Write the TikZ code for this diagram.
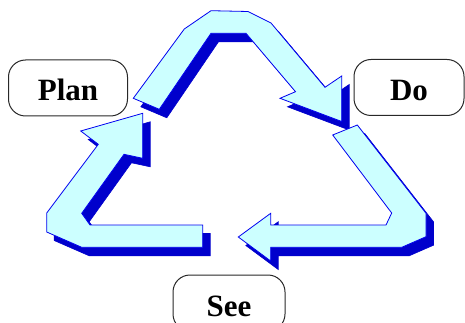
\documentclass[tikz,border=0pt]{standalone}
\usepackage{fontspec}
\setmainfont{Liberation Serif}
\definecolor{arrowfill}{RGB}{204,255,255}
\definecolor{arrowedge}{RGB}{0,0,240}
\definecolor{arrowshade}{RGB}{0,0,204}
\definecolor{tagedge}{RGB}{40,40,40}
\begin{document}
\begin{tikzpicture}[x=1pt,y=-1pt,
  tag/.style={draw=tagedge, line width=1pt, rounded corners=17pt,
    minimum height=56pt, inner sep=0pt, text height=26pt, text depth=0pt,
    font=\bfseries\fontsize{31}{31}\selectfont},
  shade/.style={fill=arrowshade, draw=arrowshade, line width=0.6pt, line join=miter},
  block/.style={fill=arrowfill, draw=arrowedge, line width=0.8pt, line join=miter},
  drop/.style={shift={(7.5,8.5)}}]
\useasboundingbox (0,0) rectangle (465,323);

% block arrow Plan -> Do
\def\planarrow{(133.3,98.3) -- (184.3,29) -- (211,10.7) -- (248,11.5) -- (271,23)
  -- (325,87.3) -- (341.7,76) -- (341.7,121.5) -- (280,98.3) -- (295.5,91.7)
  -- (246,33.3) -- (211,33.3) -- (159.3,109.3) -- cycle}
% block arrow Do -> See
\def\doarrow{(332.7,135) -- (357.3,125) -- (426,213.3) -- (426,236.7) -- (401.7,247.3)
  -- (270.7,247.3) -- (270.7,261) -- (238.3,237) -- (270.7,213.3) -- (270.7,225)
  -- (386,225) -- (391.7,213) -- cycle}
% block arrow See -> Plan
\def\seearrow{(46.7,232) -- (81.7,247.3) -- (202.7,247.3) -- (202.7,225) -- (90,225)
  -- (81.7,213.3) -- (124,154.3) -- (142.7,158.3) -- (142.7,113.3) -- (80.7,131)
  -- (98.3,144.3) -- (46.7,213) -- cycle}

\begin{scope}[drop]
  \path[shade] \planarrow;
  \path[shade] \doarrow;
  \path[shade] \seearrow;
\end{scope}
\path[block] \planarrow;
\path[block] \doarrow;
\path[block] \seearrow;

\node[tag, minimum width=119pt] (plan) at (68,88) {Plan};
\node[tag, minimum width=110pt] (do) at (409,87.5) {Do};
\node[tag, minimum width=112pt] (see) at (229,303) {See};
\end{tikzpicture}
\end{document}
